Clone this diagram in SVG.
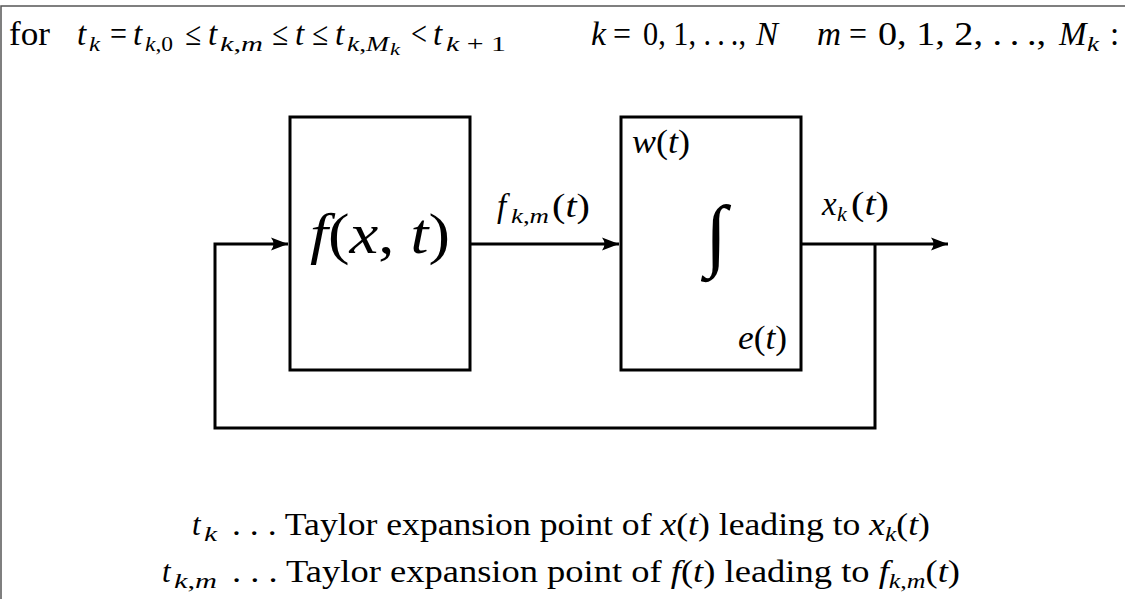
<svg xmlns="http://www.w3.org/2000/svg" width="1125" height="599" viewBox="0 0 1125 599">
<defs>
<style>
text{font-family:"Liberation Serif",serif;fill:#000}
.m{font-style:italic}
.u{font-style:normal}
.top{font-size:33px}
.s{font-size:22px}
.ss{font-size:16px}
.lbl{font-size:33px}
.ls{font-size:22px}
.bt{font-size:31px}
.ln{fill:none;stroke:#000;stroke-width:3}
.frame{fill:none;stroke:#555;stroke-width:1.5}
.box{fill:#fff;stroke:#000;stroke-width:3}
</style>
<marker id="arr" markerUnits="userSpaceOnUse" markerWidth="20" markerHeight="16" viewBox="-18 -8 20 16" refX="0" refY="0" orient="auto">
<path d="M0,0 L-17,-6.5 Q-12,0 -17,6.5 Z" fill="#000"/>
</marker>
</defs>
<rect width="1125" height="599" fill="#fff"/>
<path class="frame" d="M1,599 V6 H1125"/>

<g id="condition" class="top">
<text x="9" y="45" textLength="41" lengthAdjust="spacingAndGlyphs">for</text>
<text class="m" x="77" y="45">t</text><text class="m s" x="89" y="51" textLength="11" lengthAdjust="spacingAndGlyphs">k</text>
<text x="110" y="45" textLength="17" lengthAdjust="spacingAndGlyphs">=</text>
<text class="m" x="133" y="45">t</text><text class="m s" x="145" y="51" textLength="28" lengthAdjust="spacingAndGlyphs">k<tspan class="u">,0</tspan></text>
<text x="185" y="45" textLength="16" lengthAdjust="spacingAndGlyphs">≤</text>
<text class="m" x="208" y="45">t</text><text class="m s" x="220" y="51" textLength="43" lengthAdjust="spacingAndGlyphs">k<tspan class="u">,</tspan>m</text>
<text x="272" y="45" textLength="16" lengthAdjust="spacingAndGlyphs">≤</text>
<text class="m" x="295" y="45">t</text>
<text x="312" y="45" textLength="16" lengthAdjust="spacingAndGlyphs">≤</text>
<text class="m" x="335" y="45">t</text><text class="m s" x="347" y="51" textLength="42" lengthAdjust="spacingAndGlyphs">k<tspan class="u">,</tspan>M</text><text class="m ss" x="390" y="55" textLength="10" lengthAdjust="spacingAndGlyphs">k</text>
<text x="411" y="45" textLength="16" lengthAdjust="spacingAndGlyphs">&lt;</text>
<text class="m" x="433" y="45">t</text><text class="m s" x="446" y="51" textLength="60" lengthAdjust="spacingAndGlyphs">k<tspan class="u"> + 1</tspan></text>
<text class="m" x="591" y="45" textLength="15" lengthAdjust="spacingAndGlyphs">k</text>
<text x="613" y="45" textLength="18" lengthAdjust="spacingAndGlyphs">=</text>
<text x="643" y="45" textLength="103" lengthAdjust="spacingAndGlyphs">0, 1, .&#8201;.&#8201;.,</text>
<text class="m" x="756" y="45">N</text>
<text class="m" x="817" y="45" textLength="24" lengthAdjust="spacingAndGlyphs">m</text>
<text x="849" y="45" textLength="18" lengthAdjust="spacingAndGlyphs">=</text>
<text x="878" y="45" textLength="168" lengthAdjust="spacingAndGlyphs">0, 1, 2, .&#8201;.&#8201;.,</text>
<text class="m" x="1059" y="45">M</text>
<text class="m s" x="1087" y="51" textLength="12" lengthAdjust="spacingAndGlyphs">k</text>
<text x="1110" y="45">:</text>
</g>

<g id="connectors">
<path class="ln" d="M875,244 V428 H215 V244 H288" marker-end="url(#arr)"/>
<path class="ln" d="M470,244 H619" marker-end="url(#arr)"/>
<path class="ln" d="M801,244 H948" marker-end="url(#arr)"/>
</g>

<g id="f-block">
<rect class="box" x="290" y="117" width="180" height="253"/>
<text x="310" y="253" font-size="58" textLength="140" lengthAdjust="spacingAndGlyphs"><tspan class="m">f</tspan>(<tspan class="m">x</tspan>, <tspan class="m">t</tspan>)</text>
</g>

<g id="integrator">
<rect class="box" x="621" y="117" width="180" height="253"/>
<text x="632" y="153" class="lbl" textLength="58" lengthAdjust="spacingAndGlyphs"><tspan class="m">w</tspan>(<tspan class="m">t</tspan>)</text>
<text x="716" y="261" font-size="80" text-anchor="middle">∫</text>
<text x="738" y="349" class="lbl" textLength="49" lengthAdjust="spacingAndGlyphs"><tspan class="m">e</tspan>(<tspan class="m">t</tspan>)</text>
</g>

<g id="labels" class="lbl">
<text x="497" y="217" class="m">f</text><text x="511" y="223" class="ls m" textLength="38" lengthAdjust="spacingAndGlyphs">k<tspan class="u">,</tspan>m</text><text x="552" y="217" textLength="38" lengthAdjust="spacingAndGlyphs">(<tspan class="m">t</tspan>)</text>
<text x="822" y="215" class="m">x</text><text x="837" y="221" class="ls m">k</text><text x="851" y="215" textLength="38" lengthAdjust="spacingAndGlyphs">(<tspan class="m">t</tspan>)</text>
</g>

<g id="legend" class="bt">
<text x="192" y="535" class="m">t</text><text x="204" y="541" class="s m" textLength="13" lengthAdjust="spacingAndGlyphs">k</text>
<text x="232" y="535" textLength="698" lengthAdjust="spacingAndGlyphs">. . . Taylor expansion point of <tspan class="m">x</tspan>(<tspan class="m">t</tspan>) leading to <tspan class="m">x</tspan><tspan class="s m" dy="6">k</tspan><tspan dy="-6">(</tspan><tspan class="m">t</tspan>)</text>
<text x="162" y="582" class="m">t</text><text x="174" y="588" class="s m" textLength="43" lengthAdjust="spacingAndGlyphs">k<tspan class="u">,</tspan>m</text>
<text x="232" y="582" textLength="728" lengthAdjust="spacingAndGlyphs">. . . Taylor expansion point of <tspan class="m">f</tspan>(<tspan class="m">t</tspan>) leading to <tspan class="m">f</tspan><tspan class="s m" dy="6">k<tspan class="u">,</tspan>m</tspan><tspan dy="-6">(</tspan><tspan class="m">t</tspan>)</text>
</g>
</svg>
